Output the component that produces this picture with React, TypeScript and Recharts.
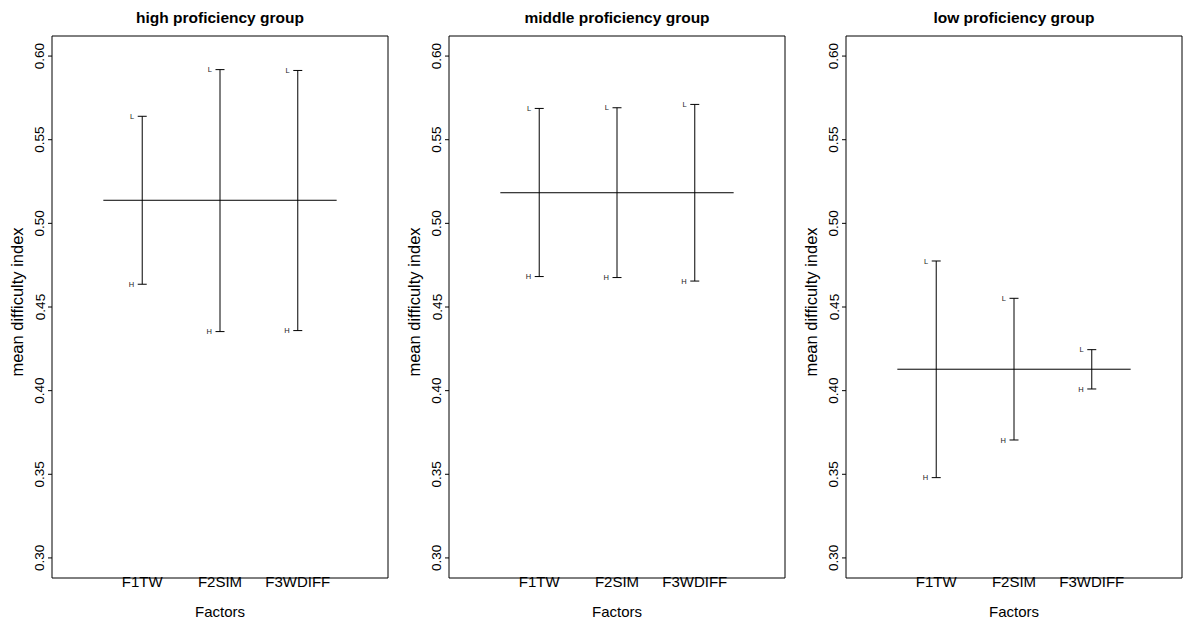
import React from 'react';
import { ComposedChart, XAxis, YAxis, Scatter, ReferenceLine, ReferenceArea } from 'recharts';

const factors = ['F1TW', 'F2SIM', 'F3WDIFF'];
const factorPositions = [1, 2, 3];
const yTicks = [0.3, 0.35, 0.4, 0.45, 0.5, 0.55, 0.6];
const titles = ['high proficiency group', 'middle proficiency group', 'low proficiency group'];

// level means (L = low level, H = high level) per factor, and grand mean
const highL = [0.564, 0.5919, 0.5914];
const highH = [0.4636, 0.4353, 0.4359];
const highMean = 0.5138;

const midL = [0.5687, 0.5691, 0.5711];
const midH = [0.4682, 0.4676, 0.4655];
const midMean = 0.5183;

const lowL = [0.4775, 0.4552, 0.4245];
const lowH = [0.348, 0.3705, 0.401];
const lowMean = 0.4128;

const FONT = '"Liberation Sans", Arial, Helvetica, sans-serif';
const X_DOMAIN: [number, number] = [-0.16, 4.16];
const Y_DOMAIN: [number, number] = [0.288, 0.612];

const XTick = (props: any) => {
  const { x, y, payload } = props;
  const idx = factorPositions.indexOf(payload.value);
  return (
    <text x={x} y={y + 8.5} textAnchor="middle" fontSize={15} fill="#000" fontFamily={FONT}>
      {factors[idx]}
    </text>
  );
};

const YTick = (props: any) => {
  const { x, y, payload } = props;
  return (
    <text
      x={x}
      y={y}
      transform={`rotate(-90 ${x} ${y})`}
      textAnchor="middle"
      fontSize={13.5}
      fill="#000"
      fontFamily={FONT}
    >
      {payload.value.toFixed(2)}
    </text>
  );
};

const LevelMark = (props: any) => {
  const { cx, cy, payload } = props;
  return (
    <g>
      <line x1={cx - 4.5} x2={cx + 4.5} y1={cy} y2={cy} stroke="#000" strokeWidth={1} />
      <text x={cx - 8} y={cy} dy="0.36em" textAnchor="end" fontSize={7.5} fill="#222" fontFamily={FONT}>
        {payload.level}
      </text>
    </g>
  );
};

function Panel({ title, lows, highs, mean }: { title: string; lows: number[]; highs: number[]; mean: number }) {
  const points = factorPositions.flatMap((p, i) => [
    { x: p, y: lows[i], level: 'L' },
    { x: p, y: highs[i], level: 'H' },
  ]);
  return (
    <ComposedChart width={390} height={620} margin={{ top: 36, right: 2, bottom: 0, left: 2 }}>
      <XAxis
        type="number"
        dataKey="x"
        domain={X_DOMAIN}
        ticks={factorPositions}
        allowDataOverflow
        axisLine={false}
        tickLine={false}
        tickSize={0}
        tickMargin={0}
        interval={0}
        height={42}
        tick={XTick}
        label={(p: any) => {
          const vb = p.viewBox;
          return (
            <text x={vb.x + vb.width / 2} y={vb.y + 38.5} textAnchor="middle" fontSize={15} fill="#000" fontFamily={FONT}>
              Factors
            </text>
          );
        }}
      />
      <YAxis
        type="number"
        dataKey="y"
        domain={Y_DOMAIN}
        ticks={yTicks}
        allowDataOverflow
        axisLine={false}
        tickLine={{ stroke: '#000' }}
        tickSize={4}
        tickMargin={3.5}
        interval={0}
        width={50}
        tick={YTick}
        label={(p: any) => {
          const vb = p.viewBox;
          const lx = vb.x + 21;
          const ly = vb.y + vb.height / 2 - 5;
          return (
            <text
              x={lx}
              y={ly}
              transform={`rotate(-90 ${lx} ${ly})`}
              textAnchor="middle"
              fontSize={16.5}
              fill="#000"
              fontFamily={FONT}
            >
              mean difficulty index
            </text>
          );
        }}
      />
      <ReferenceArea
        x1={X_DOMAIN[0]}
        x2={X_DOMAIN[1]}
        y1={Y_DOMAIN[0]}
        y2={Y_DOMAIN[1]}
        fill="none"
        fillOpacity={0}
        stroke="#000"
        strokeWidth={1}
        ifOverflow="visible"
        label={(p: any) => {
          const vb = p.viewBox;
          return (
            <text x={vb.x + vb.width / 2} y={vb.y - 13.5} textAnchor="middle" fontSize={15.5} fontWeight="bold" fill="#000" fontFamily={FONT}>
              {title}
            </text>
          );
        }}
      />
      <ReferenceLine
        segment={[
          { x: 0.5, y: mean },
          { x: 3.5, y: mean },
        ]}
        stroke="#000"
        strokeWidth={1}
        ifOverflow="visible"
      />
      {factorPositions.map((p, i) => (
        <ReferenceLine
          key={p}
          segment={[
            { x: p, y: highs[i] },
            { x: p, y: lows[i] },
          ]}
          stroke="#000"
          strokeWidth={1}
          ifOverflow="visible"
        />
      ))}
      <Scatter data={points} shape={LevelMark} isAnimationActive={false} />
    </ComposedChart>
  );
}

const panelLefts = [0, 397, 794];

export default function App() {
  const panels = [
    { title: titles[0], lows: highL, highs: highH, mean: highMean },
    { title: titles[1], lows: midL, highs: midH, mean: midMean },
    { title: titles[2], lows: lowL, highs: lowH, mean: lowMean },
  ];
  return (
    <div style={{ position: 'absolute', left: 0, top: 0, width: 1184, height: 620, background: '#fff', fontFamily: FONT }}>
      {panels.map((pn, i) => (
        <div key={i} style={{ position: 'absolute', left: panelLefts[i], top: 0 }}>
          <Panel {...pn} />
        </div>
      ))}
    </div>
  );
}
